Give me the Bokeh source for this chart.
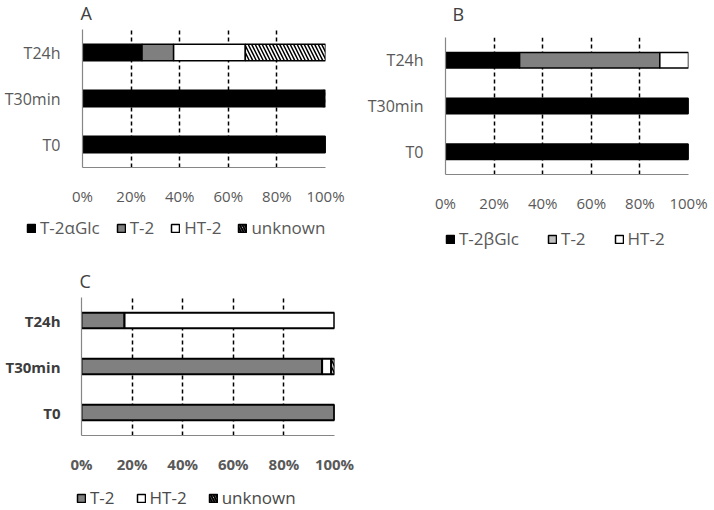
from bokeh.plotting import figure
from bokeh.models import (Range1d, FactorRange, FixedTicker, PrintfTickFormatter,
                          Legend, LegendItem, ColumnDataSource, Label)
from bokeh.layouts import column, row
from bokeh.embed import file_html
from bokeh.resources import INLINE

times = ["T0", "T30min", "T24h"]
x_ticks = [0, 20, 40, 60, 80, 100]

# Panel A (%)
A_T2aGlc = [100.0, 99.0, 24.5]
A_T2 = [0.0, 0.0, 13.0]
A_HT2 = [0.0, 0.4, 29.5]
A_unknown = [0.0, 0.6, 33.0]

# Panel B (%)
B_T2bGlc = [100.0, 100.0, 30.5]
B_T2 = [0.0, 0.0, 57.7]
B_HT2 = [0.0, 0.0, 11.8]

# Panel C (%)
C_T2 = [100.0, 95.1, 17.0]
C_HT2 = [0.0, 3.6, 83.0]
C_unknown = [0.0, 1.3, 0.0]

FONT = "Open Sans"
GRAY_TXT = "#595959"


def blank_fig(width, height):
    f = figure(width=width, height=height, x_range=Range1d(0, 1), y_range=Range1d(0, 1),
               output_backend="svg", toolbar_location=None,
               x_axis_location=None, y_axis_location=None,
               min_border_left=0, min_border_right=0, min_border_top=0, min_border_bottom=0)
    f.outline_line_color = None
    f.grid.visible = False
    return f


def title_fig(text, width, height, x, y):
    f = blank_fig(width, height)
    f.add_layout(Label(x=x, y=y, x_units="screen", y_units="screen", text=text,
                       text_font=FONT, text_font_size="18px", text_color="#404040",
                       text_baseline="middle", text_align="left"))
    return row(f)


def legend_fig(width, height, entries, loc, spacing, color=GRAY_TXT):
    f = blank_fig(width, height)
    items = []
    for label, style in entries:
        # swatch renderer for the legend; its bar lies outside the visible ranges
        r = f.hbar(y=[-5], left=[5], right=[6], height=1, line_color="black",
                   line_width=1.5, **style)
        items.append(LegendItem(label=label, renderers=[r]))
    lg = Legend(items=items, location=loc, orientation="horizontal",
                glyph_width=10, glyph_height=10, label_standoff=4, spacing=spacing,
                padding=0, margin=0, border_line_color=None, background_fill_alpha=0,
                label_text_font=FONT, label_text_font_size="17px",
                label_text_color=color, label_height=18)
    f.add_layout(lg)
    return row(f)


def chart_fig(width, height, bl, bb, br, bold=False):
    p = figure(width=width, height=height, y_range=FactorRange(*times),
               x_range=Range1d(0, 100), output_backend="svg", toolbar_location=None,
               min_border_left=bl, min_border_top=0, min_border_bottom=bb,
               min_border_right=br)
    p.outline_line_color = None
    p.xaxis.ticker = FixedTicker(ticks=x_ticks)
    p.xaxis.formatter = PrintfTickFormatter(format="%d%%")
    for ax in (p.xaxis, p.yaxis):
        ax.major_tick_line_color = None
        ax.minor_tick_line_color = None
        ax.axis_line_color = "#868686"
        ax.axis_line_width = 1.2
        ax.major_label_text_font = FONT
    p.xaxis.major_label_text_font_size = "15px"
    p.yaxis.major_label_text_font_size = "16px" if not bold else "15px"
    p.xaxis.major_label_text_color = GRAY_TXT
    p.yaxis.major_label_text_color = GRAY_TXT if not bold else "#3c3c3c"
    if bold:
        p.xaxis.major_label_text_font_style = "bold"
        p.yaxis.major_label_text_font_style = "bold"
    p.xaxis.major_label_standoff = 12
    p.yaxis.major_label_standoff = 16 if not bold else 15
    p.ygrid.grid_line_color = None
    p.xgrid.ticker = FixedTicker(ticks=x_ticks[1:])
    p.xgrid.grid_line_color = "black"
    p.xgrid.grid_line_dash = "4 3"
    p.xgrid.grid_line_width = 1.5
    return p


HATCH = dict(fill_color="white", hatch_pattern="\\", hatch_color="black",
             hatch_weight=2, hatch_scale=5)

# ---------------- Panel A ----------------
tA = title_fig("A", 360, 29, 80, 17)
pA = chart_fig(360, 179, 82, 36, 35)
srcA = ColumnDataSource(dict(t=times, a=A_T2aGlc, b=A_T2, c=A_HT2, d=A_unknown))
pA.hbar_stack(["a", "b", "c", "d"], y="t", height=0.36, source=srcA,
              fill_color=["black", "#7f7f7f", "white", "white"],
              line_color="black", line_width=1.5,
              hatch_pattern=[" ", " ", " ", "\\"], hatch_color="black",
              hatch_weight=1.5, hatch_scale=7)
lA = legend_fig(360, 42, [("T-2αGlc", dict(fill_color="black")),
                          ("T-2", dict(fill_color="#7f7f7f")),
                          ("HT-2", dict(fill_color="white")),
                          ("unknown", HATCH)],
                (26, 11), 16)

# ---------------- Panel B ----------------
tB = title_fig("B", 352, 37, 92, 24)
pB = chart_fig(352, 178, 85, 36, 24)
srcB = ColumnDataSource(dict(t=times, a=B_T2bGlc, b=B_T2, c=B_HT2))
pB.hbar_stack(["a", "b", "c"], y="t", height=0.34, source=srcB,
              fill_color=["black", "#808080", "white"],
              line_color="black", line_width=1.5)
lB = legend_fig(352, 35, [("T-2βGlc", dict(fill_color="black")),
                          ("T-2", dict(fill_color="#c0c0c0")),
                          ("HT-2", dict(fill_color="white"))],
                (85, 0), 28)

# ---------------- Panel C ----------------
tC = title_fig("C", 374, 47, 79, 17)
pC = chart_fig(374, 179, 81, 36, 40, bold=True)
srcC = ColumnDataSource(dict(t=times, a=C_T2, b=C_HT2, c=C_unknown))
pC.hbar_stack(["a", "b", "c"], y="t", height=0.34, source=srcC,
              fill_color=["#808080", "white", "white"],
              line_color="black", line_width=2,
              hatch_pattern=[" ", " ", "\\"], hatch_color="black",
              hatch_weight=1.5, hatch_scale=7)
lC = legend_fig(374, 33, [("T-2", dict(fill_color="#808080")),
                          ("HT-2", dict(fill_color="white")),
                          ("unknown", HATCH)],
                (76, 0), 21, color="#4a4a4a")

layout = column(row(column(tA, pA, lA), column(tB, pB, lB)), column(tC, pC, lC))
open("out.html", "w").write(file_html(layout, INLINE))
